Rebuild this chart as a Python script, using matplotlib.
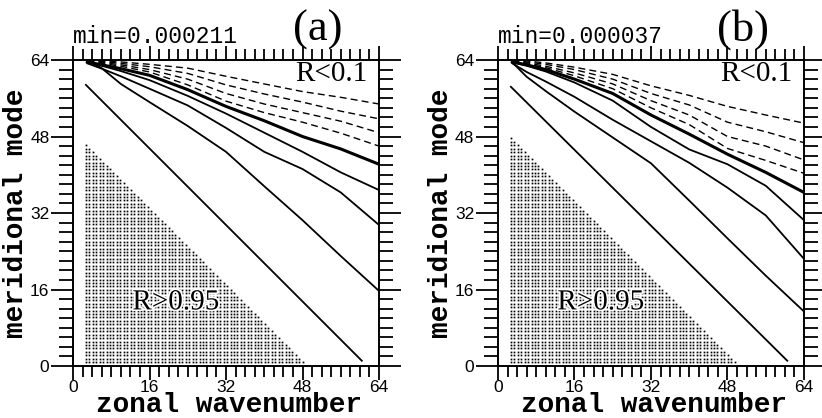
import numpy as np
import matplotlib.pyplot as plt
import matplotlib.patheffects as pe
from matplotlib.path import Path
from matplotlib.ticker import MultipleLocator

# contour sample points (zonal wavenumber positions shared by the curved lines)
xs = [3, 6, 10, 16, 24, 32, 40, 48, 56, 64]

# panel (a): dashed contours (top to bottom)
a_d1 = [64.0, 63.9, 63.6, 63.1, 62.3, 60.6, 59.0, 57.4, 56.2, 54.8]
a_d2 = [63.9, 63.7, 63.3, 62.6, 61.2, 58.8, 56.9, 55.2, 53.3, 51.7]
a_d3 = [63.8, 63.5, 63.0, 62.0, 60.0, 57.0, 54.8, 53.0, 51.2, 48.8]
a_d4 = [63.7, 63.3, 62.7, 61.5, 58.8, 55.4, 53.0, 51.0, 48.7, 46.0]
# panel (a): solid contours
a_s1 = [63.6, 63.0, 62.2, 60.8, 57.8, 54.3, 51.3, 48.0, 45.4, 42.2]
a_s2 = [63.5, 62.8, 61.7, 59.8, 56.5, 52.8, 48.8, 44.8, 40.5, 36.8]
a_s3 = [63.3, 62.2, 60.6, 58.0, 54.5, 49.8, 44.8, 41.2, 36.3, 29.5]
a_s4 = [64.0, 62.3, 59.0, 55.2, 50.2, 44.8, 37.6, 30.5, 23.0, 15.7]
a_s5_x = [2.7, 60.4]
a_s5_y = [58.8, 1.1]
a_dots_x = [2.7, 2.7, 48.2]
a_dots_y = [46.1, 0.8, 0.8]

# panel (b)
b_d1 = [64.0, 63.8, 63.4, 62.5, 61.0, 58.6, 56.6, 54.3, 52.5, 50.8]
b_d2 = [63.9, 63.6, 63.1, 62.0, 60.0, 57.0, 54.6, 51.0, 49.0, 46.7]
b_d3 = [63.8, 63.4, 62.7, 61.3, 59.0, 55.5, 52.5, 48.0, 46.0, 43.1]
b_d4 = [63.7, 63.2, 62.4, 60.7, 58.0, 54.0, 50.5, 45.5, 43.0, 40.3]
b_s1 = [63.6, 63.0, 62.0, 60.0, 57.0, 52.5, 48.5, 44.3, 40.5, 36.3]
b_s2 = [63.5, 62.8, 61.6, 59.3, 55.5, 50.0, 45.3, 42.2, 37.7, 30.5]
b_s3 = [63.3, 61.5, 59.5, 56.3, 51.5, 47.0, 42.5, 37.3, 31.5, 22.4]
b_s4 = [63.5, 60.5, 57.5, 53.2, 47.8, 42.4, 34.6, 26.7, 18.9, 11.4]
b_s5_x = [2.7, 60.5]
b_s5_y = [58.4, 1.1]
b_dots_x = [2.7, 2.7, 49.3]
b_dots_y = [47.4, 0.8, 0.8]

panels = [
    ('(a)', 'min=0.000211', [a_d1, a_d2, a_d3, a_d4], [a_s1, a_s2, a_s3, a_s4],
     (a_s5_x, a_s5_y), (a_dots_x, a_dots_y), 0.0888),
    ('(b)', 'min=0.000037', [b_d1, b_d2, b_d3, b_d4], [b_s1, b_s2, b_s3, b_s4],
     (b_s5_x, b_s5_y), (b_dots_x, b_dots_y), 0.6058),
]

serif = ['Liberation Serif', 'DejaVu Serif']
mono = ['Liberation Mono', 'DejaVu Sans Mono']
thin = ['Liberation Sans', 'DejaVu Sans']

fig = plt.figure(figsize=(8.22, 4.18), dpi=100)

for tag, mintxt, dashed, solid, s5, dots, left in panels:
    ax = fig.add_axes([left, 0.1244, 0.3723, 0.732])

    # stippled R>0.95 region
    gx, gy = np.meshgrid(np.arange(2.7, 64, 0.72), np.arange(0.8, 64, 0.72))
    pts = np.column_stack([gx.ravel(), gy.ravel()])
    tri = Path(np.column_stack(dots))
    inside = tri.contains_points(pts, radius=0.3)
    ax.plot(pts[inside, 0], pts[inside, 1], ls='none', marker='s', ms=1.25,
            mew=0, color='black', zorder=1)

    for ys in dashed:
        ax.plot(xs, ys, color='black', lw=1.0, dashes=(5, 3), zorder=2)
    for i, ys in enumerate(solid):
        ax.plot(xs, ys, color='black', lw=2.2 if i == 0 else 1.3, zorder=2)
    ax.plot(s5[0], s5[1], color='black', lw=1.3, zorder=2)

    ax.set_xlim(0, 64)
    ax.set_ylim(0, 64)
    ax.xaxis.set_major_locator(MultipleLocator(16))
    ax.yaxis.set_major_locator(MultipleLocator(16))
    ax.xaxis.set_minor_locator(MultipleLocator(2))
    ax.yaxis.set_minor_locator(MultipleLocator(2))
    ax.tick_params(which='both', direction='out', top=True, right=True,
                   width=1.3, colors='black')
    ax.tick_params(axis='x', which='major', length=10, pad=0)
    ax.tick_params(axis='x', which='minor', length=8)
    ax.tick_params(axis='y', which='major', length=16, pad=1)
    ax.tick_params(axis='y', which='minor', length=10)
    for lab in ax.get_xticklabels() + ax.get_yticklabels():
        lab.set_family(thin)
        lab.set_fontsize(12.5)
    for sp in ax.spines.values():
        sp.set_linewidth(1.4)

    ax.text(0.0, 1.077, mintxt, transform=ax.transAxes, ha='left', va='center',
            family=mono, fontsize=16.5)
    ax.text(0.80, 1.10, tag, transform=ax.transAxes, ha='center', va='center',
            family=serif, fontsize=32)
    ax.text(0.963, 0.955, 'R<0.1', transform=ax.transAxes, ha='right',
            va='center', family=serif, fontsize=21)
    ax.text(21.5, 13.3, 'R>0.95', ha='center', va='center', family=serif,
            fontsize=21, zorder=3,
            path_effects=[pe.withStroke(linewidth=2.5, foreground='white')])
    ax.text(0.51, -0.151, 'zonal wavenumber', transform=ax.transAxes,
            ha='center', va='baseline', family=mono, fontweight='bold',
            fontsize=20)
    ax.text(-0.185, 0.5, 'meridional mode', transform=ax.transAxes,
            ha='center', va='center', rotation=90, family=mono,
            fontweight='bold', fontsize=20)

fig.savefig('out.png', dpi=100)
